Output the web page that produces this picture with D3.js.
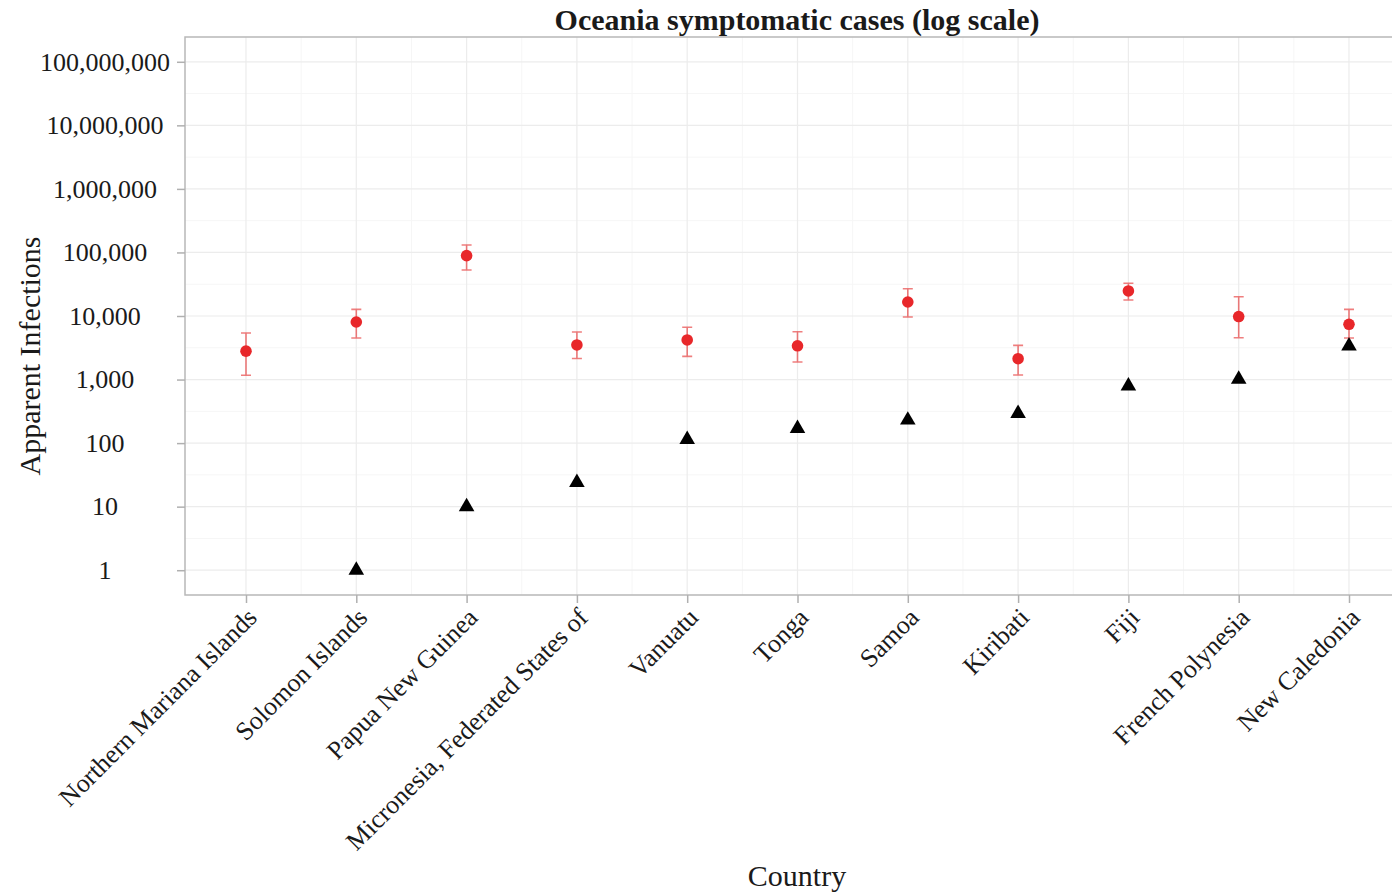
<!DOCTYPE html>
<html>
<head>
<meta charset="utf-8">
<script src="https://cdn.jsdelivr.net/npm/d3@7"></script>
<style>
body { margin: 0; background: #fff; }
text { font-family: "Liberation Serif", "DejaVu Serif", serif; fill: #1a1a1a; }
</style>
</head>
<body>
<svg id="chart" width="1392" height="894"></svg>
<script>
var countries = ['Northern Mariana Islands', 'Solomon Islands', 'Papua New Guinea', 'Micronesia, Federated States of',
    'Vanuatu', 'Tonga', 'Samoa', 'Kiribati', 'Fiji', 'French Polynesia', 'New Caledonia']
// estimated symptomatic cases, with lower / upper bounds
var estimate = [2800, 8050, 89000, 3500, 4200, 3400, 16600, 2130, 24800, 9800, 7400]
var estLow = [1170, 4500, 53000, 2150, 2320, 1890, 9640, 1180, 17900, 4550, 4500]
var estHigh = [5400, 12700, 131000, 5600, 6640, 5660, 26900, 3450, 32700, 20100, 12700]
// reported cases (none for Northern Mariana Islands)
var reported = [null, 1, 10, 24, 114, 170, 230, 293, 790, 1010, 3370]
var yTicks = [1, 10, 100, 1000, 10000, 100000, 1000000, 10000000, 100000000]

var svg = d3.select('#chart')
var panelLeft = 185, panelTop = 37, panelBottom = 595, panelRight = 1416

var x = d3.scalePoint()
    .domain(countries)
    .range([246, 1349])
var y = d3.scaleLog()
    .domain([Math.pow(10, -0.39), Math.pow(10, 8.39)])
    .range([panelBottom, panelTop])

// panel background
svg.append('rect')
    .attr('x', panelLeft).attr('y', panelTop)
    .attr('width', panelRight - panelLeft).attr('height', panelBottom - panelTop)
    .attr('fill', '#fff')

// minor grid (half decades / between categories)
var minorY = yTicks.slice(0, -1).map(d => d * Math.sqrt(10))
minorY.unshift(1 / Math.sqrt(10))
svg.selectAll('.minorY')
    .data(minorY.filter(d => y(d) > panelTop && y(d) < panelBottom))
    .join('line')
    .attr('class', 'minorY')
    .attr('x1', panelLeft).attr('x2', panelRight)
    .attr('y1', d => y(d)).attr('y2', d => y(d))
    .attr('stroke', '#f6f6f6').attr('stroke-width', 1)
var step = x.step()
svg.selectAll('.minorX')
    .data(countries)
    .join('line')
    .attr('class', 'minorX')
    .attr('x1', d => x(d) + step / 2).attr('x2', d => x(d) + step / 2)
    .attr('y1', panelTop).attr('y2', panelBottom)
    .attr('stroke', '#f6f6f6').attr('stroke-width', 1)

// major grid
svg.selectAll('.majorY')
    .data(yTicks)
    .join('line')
    .attr('class', 'majorY')
    .attr('x1', panelLeft).attr('x2', panelRight)
    .attr('y1', d => y(d)).attr('y2', d => y(d))
    .attr('stroke', '#ececec').attr('stroke-width', 1.2)
svg.selectAll('.majorX')
    .data(countries)
    .join('line')
    .attr('class', 'majorX')
    .attr('x1', d => x(d)).attr('x2', d => x(d))
    .attr('y1', panelTop).attr('y2', panelBottom)
    .attr('stroke', '#ececec').attr('stroke-width', 1.2)

// panel border
svg.append('path')
    .attr('d', `M${panelRight} ${panelTop} L${panelLeft} ${panelTop} L${panelLeft} ${panelBottom} L${panelRight} ${panelBottom}`)
    .attr('fill', 'none')
    .attr('stroke', '#b8b8b8').attr('stroke-width', 1.5)

// axes
var yAxis = d3.axisLeft(y)
    .tickValues(yTicks)
    .tickFormat(d3.format(','))
    .tickSize(8)
    .tickPadding(0)
var gY = svg.append('g')
    .attr('transform', `translate(${panelLeft},0)`)
    .call(yAxis)
gY.select('.domain').remove()
gY.selectAll('.tick line').attr('stroke', '#b0b0b0').attr('stroke-width', 1.5)
gY.selectAll('.tick text')
    .attr('x', -80)
    .attr('text-anchor', 'middle')
    .attr('font-size', 26)
    .attr('font-family', '"Liberation Serif", serif')
    .attr('fill', '#222')

var xAxis = d3.axisBottom(x).tickSize(8).tickPadding(0)
var gX = svg.append('g')
    .attr('transform', `translate(0,${panelBottom})`)
    .call(xAxis)
gX.select('.domain').remove()
gX.selectAll('.tick line').attr('stroke', '#b0b0b0').attr('stroke-width', 1.5)
gX.selectAll('.tick text')
    .attr('y', 0)
    .attr('dy', 0)
    .attr('text-anchor', 'end')
    .attr('transform', 'translate(12,24) rotate(-45)')
    .attr('font-size', 26)
    .attr('font-family', '"Liberation Serif", serif')
    .attr('fill', '#222')

// error bars
var cap = 5
svg.selectAll('.errbar')
    .data(countries)
    .join('path')
    .attr('class', 'errbar')
    .attr('d', function (d, i) {
        var cx = x(d), lo = y(estLow[i]), hi = y(estHigh[i])
        return `M${cx - cap} ${hi} L${cx + cap} ${hi} M${cx} ${hi} L${cx} ${lo} M${cx - cap} ${lo} L${cx + cap} ${lo}`
    })
    .attr('fill', 'none')
    .attr('stroke', 'rgba(228,40,40,0.6)')
    .attr('stroke-width', 1.6)

// estimate points
svg.selectAll('.est')
    .data(countries)
    .join('circle')
    .attr('class', 'est')
    .attr('cx', d => x(d))
    .attr('cy', (d, i) => y(estimate[i]))
    .attr('r', 5.8)
    .attr('fill', '#e8272a')

// reported triangles
var tri = d3.symbol().type(d3.symbolTriangle).size(105)
svg.selectAll('.rep')
    .data(countries.map((c, i) => ({ c: c, v: reported[i] })).filter(d => d.v != null))
    .join('path')
    .attr('class', 'rep')
    .attr('d', tri)
    .attr('transform', d => `translate(${x(d.c)},${y(d.v)})`)
    .attr('fill', '#000')

// titles
svg.append('text')
    .attr('x', 797).attr('y', 30)
    .attr('text-anchor', 'middle')
    .attr('font-size', 30)
    .attr('font-weight', 'bold')
    .text('Oceania symptomatic cases (log scale)')
svg.append('text')
    .attr('x', 797).attr('y', 886)
    .attr('text-anchor', 'middle')
    .attr('font-size', 30)
    .text('Country')
svg.append('text')
    .attr('transform', 'translate(40,356) rotate(-90)')
    .attr('text-anchor', 'middle')
    .attr('font-size', 30)
    .text('Apparent Infections')
</script>
</body>
</html>
